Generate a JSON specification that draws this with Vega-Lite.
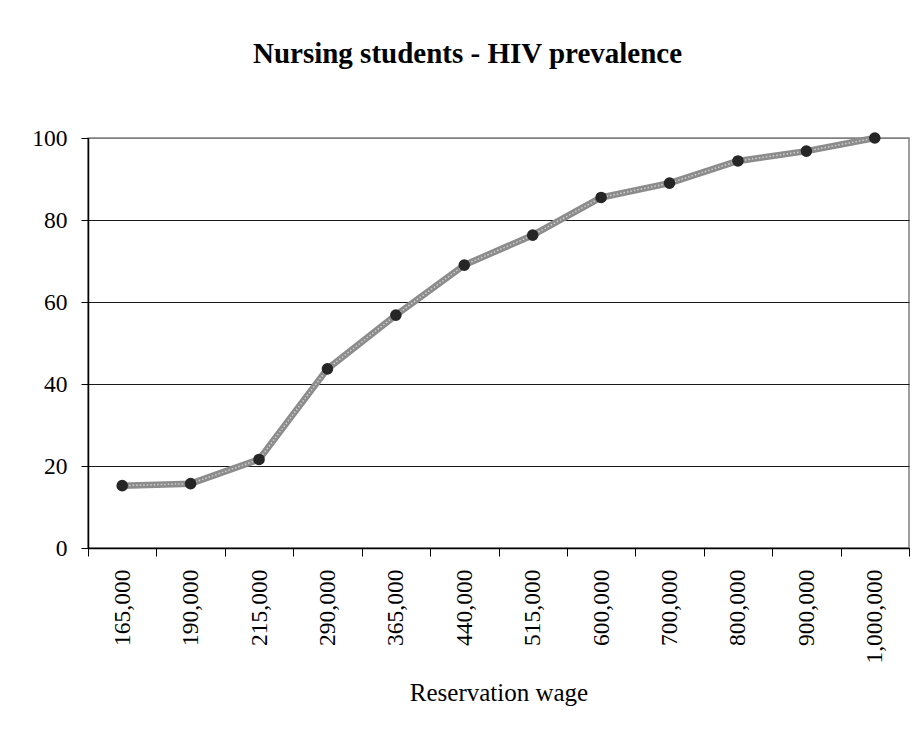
{
  "$schema": "https://vega.github.io/schema/vega-lite/v6.json",
  "autosize": "none",
  "width": 821,
  "height": 410,
  "padding": {"left": 88, "top": 138, "right": 5, "bottom": 183},
  "background": "white",
  "title": {
    "text": "Nursing students - HIV prevalence",
    "font": "Liberation Serif",
    "fontSize": 29,
    "fontWeight": "bold",
    "color": "black",
    "anchor": "middle",
    "dx": -31,
    "baseline": "alphabetic",
    "offset": 34
  },
  "data": {
    "values": [
      {"wage": "165,000", "prevalence": 15.2},
      {"wage": "190,000", "prevalence": 15.7},
      {"wage": "215,000", "prevalence": 21.6},
      {"wage": "290,000", "prevalence": 43.7},
      {"wage": "365,000", "prevalence": 56.8},
      {"wage": "440,000", "prevalence": 69.0},
      {"wage": "515,000", "prevalence": 76.3},
      {"wage": "600,000", "prevalence": 85.5},
      {"wage": "700,000", "prevalence": 89.0},
      {"wage": "800,000", "prevalence": 94.4},
      {"wage": "900,000", "prevalence": 96.8},
      {"wage": "1,000,000", "prevalence": 100}
    ]
  },
  "encoding": {
    "x": {
      "field": "wage",
      "type": "ordinal",
      "sort": null,
      "scale": {"type": "band", "paddingInner": 0, "paddingOuter": 0},
      "axis": {
        "title": "Reservation wage",
        "labelAngle": -90,
        "labelFont": "Liberation Serif",
        "labelFontSize": 23.5,
        "labelColor": "black",
        "labelPadding": 13,
        "tickBand": "extent",
        "tickSize": 8,
        "tickColor": "black",
        "tickWidth": 1,
        "domainColor": "black",
        "domainWidth": 1.5,
        "grid": false,
        "titleFont": "Liberation Serif",
        "titleFontSize": 25,
        "titleFontWeight": "normal",
        "titleColor": "black",
        "titlePadding": 17
      }
    },
    "y": {
      "field": "prevalence",
      "type": "quantitative",
      "scale": {"domain": [0, 100], "nice": false, "zero": true},
      "axis": {
        "title": null,
        "values": [0, 20, 40, 60, 80, 100],
        "labelFont": "Liberation Serif",
        "labelFontSize": 23.5,
        "labelColor": "black",
        "labelPadding": 14,
        "tickSize": 7,
        "tickColor": "black",
        "domainColor": "black",
        "domainWidth": 1.5,
        "grid": true,
        "gridColor": {"condition": {"test": "datum.value === 100", "value": "#808080"}, "value": "#1a1a1a"},
        "gridWidth": 1,
        "gridOpacity": 1
      }
    }
  },
  "layer": [
    {
      "mark": {"type": "line", "color": "#8c8c8c", "strokeWidth": 6.5, "strokeJoin": "round"}
    },
    {
      "mark": {"type": "line", "color": "#cfcfcf", "strokeWidth": 1.5, "strokeDash": [1.5, 2]}
    },
    {
      "mark": {"type": "point", "filled": true, "color": "#262626", "size": 135, "opacity": 1}
    }
  ],
  "config": {
    "view": {"stroke": "#808080", "strokeWidth": 1.5},
    "font": "Liberation Serif"
  }
}
